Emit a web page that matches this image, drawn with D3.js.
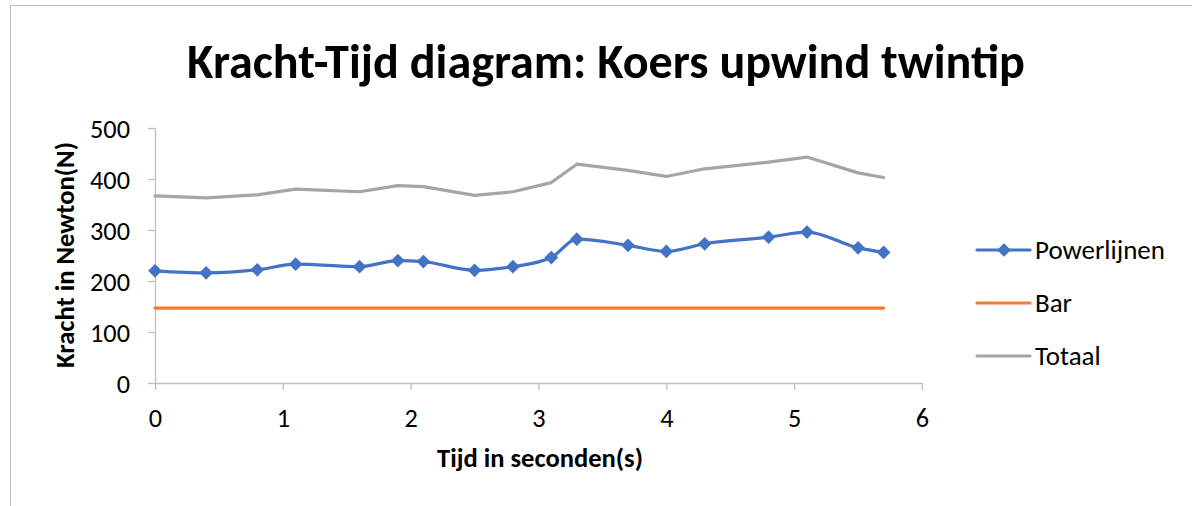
<!DOCTYPE html>
<html>
<head>
<meta charset="utf-8">
<script src="https://cdn.jsdelivr.net/npm/d3@7"></script>
<style>
  body { margin: 0; background: #fff; }
  text { font-family: Carlito, Calibri, "Open Sans", sans-serif; fill: #000; }
</style>
</head>
<body>
<div id="container" style="width:1192px;height:506px"></div>
<script>
var time = [0, 0.4, 0.8, 1.1, 1.6, 1.9, 2.1, 2.5, 2.8, 3.1, 3.3, 3.7, 4.0, 4.3, 4.8, 5.1, 5.5, 5.7];
var powerlijnen = [220, 216, 222, 233, 228, 240, 238, 221, 228, 246, 282, 270, 258, 273, 286, 296, 265, 256];
var bar = [147, 147, 147, 147, 147, 147, 147, 147, 147, 147, 147, 147, 147, 147, 147, 147, 147, 147];
var totaal = [367, 363, 369, 380, 375, 387, 385, 368, 375, 393, 429, 417, 405, 420, 433, 443, 412, 403];
var xTicks = [0, 1, 2, 3, 4, 5, 6];
var yTicks = [0, 100, 200, 300, 400, 500];

var series = [
  { name: "Powerlijnen", values: powerlijnen, color: "#4472c4", marker: true, curve: d3.curveMonotoneX },
  { name: "Bar", values: bar, color: "#ed7d31", marker: false, curve: d3.curveLinear },
  { name: "Totaal", values: totaal, color: "#a5a5a5", marker: false, curve: d3.curveLinear },
];

var svg = d3.select("#container").append("svg")
  .attr("width", 1192)
  .attr("height", 506);

// scale a text's font so it spans the given width
function fit(sel, width) {
  var fs = parseFloat(sel.style("font-size"));
  var w = sel.node().getComputedTextLength();
  sel.style("font-size", (fs * width / w) + "px");
  return sel;
}

// chart frame (only left and top edges visible)
svg.append("path")
  .attr("d", "M10.5,506 L10.5,5.5 L1192,5.5")
  .attr("fill", "none")
  .attr("stroke", "#bfbfbf");

var x = d3.scaleLinear().domain([0, 6]).range([155, 922]);
var y = d3.scaleLinear().domain([0, 500]).range([383, 128]);

var title = svg.append("text")
  .attr("x", 606)
  .attr("y", 78)
  .attr("text-anchor", "middle")
  .style("font-weight", "bold")
  .style("font-size", "40px")
  .text("Kracht-Tijd diagram: Koers upwind twintip");
fit(title, 838);

// axes
var yAxis = svg.append("g")
  .attr("transform", "translate(155,0)")
  .call(d3.axisLeft(y).tickValues(yTicks).tickFormat(d3.format("d")).tickSize(7).tickPadding(0).tickSizeOuter(0));
yAxis.selectAll("text")
  .attr("x", -25)
  .attr("dy", null)
  .attr("y", 9)
  .style("font-size", "20px");
fit(yAxis.selectAll("text").filter(function (d) { return d === 500; }), 40);
yAxis.selectAll("text").style("font-size", yAxis.selectAll("text").filter(function (d) { return d === 500; }).style("font-size"));

var xAxis = svg.append("g")
  .attr("transform", "translate(0,383)")
  .call(d3.axisBottom(x).tickValues(xTicks).tickFormat(d3.format("d")).tickSize(7).tickSizeOuter(0));
xAxis.selectAll("text")
  .attr("dy", null)
  .attr("y", 44)
  .style("font-size", yAxis.select("text").style("font-size"));
svg.selectAll(".domain, .tick line").attr("stroke", "#bfbfbf").attr("stroke-width", 1.3);

// axis titles
var yTitle = svg.append("text")
  .attr("transform", "translate(74,255) rotate(-90)")
  .attr("text-anchor", "middle")
  .style("font-weight", "bold")
  .style("font-size", "20px")
  .text("Kracht in Newton(N)");
fit(yTitle, 226);

var xTitle = svg.append("text")
  .attr("x", 540)
  .attr("y", 467)
  .attr("text-anchor", "middle")
  .style("font-weight", "bold")
  .style("font-size", "20px")
  .text("Tijd in seconden(s)");
fit(xTitle, 206);

// lines
var diamond = d3.symbol().type(d3.symbolDiamond2).size(120);

series.slice().reverse().forEach(function (s) {
  var pts = time.map(function (t, i) { return [t, s.values[i]]; });
  var line = d3.line()
    .x(function (d) { return x(d[0]); })
    .y(function (d) { return y(d[1]); })
    .curve(s.curve);
  svg.append("path")
    .datum(pts)
    .attr("fill", "none")
    .attr("stroke", s.color)
    .attr("stroke-width", 3.2)
    .attr("stroke-linecap", "round")
    .attr("stroke-linejoin", "round")
    .attr("d", line);
  if (s.marker) {
    svg.selectAll("path.marker")
      .data(pts)
      .enter()
      .append("path")
      .attr("class", "marker")
      .attr("transform", function (d) {
        return "translate(" + x(d[0]) + "," + y(d[1]) + ")";
      })
      .attr("d", diamond)
      .attr("fill", s.color);
  }
});

// legend
var legend = svg.append("g").attr("transform", "translate(977,250)");
series.forEach(function (s, i) {
  var g = legend.append("g").attr("transform", "translate(0," + i * 53 + ")");
  g.append("line")
    .attr("x1", 0).attr("x2", 53)
    .attr("stroke", s.color)
    .attr("stroke-width", 3.2)
    .attr("stroke-linecap", "round");
  if (s.marker) {
    g.append("path")
      .attr("transform", "translate(27,0)")
      .attr("d", diamond)
      .attr("fill", s.color);
  }
  var t = g.append("text")
    .attr("x", 58)
    .attr("y", 9)
    .style("font-size", "20px")
    .text(s.name);
  if (i === 0) fit(t, 130);
  else t.style("font-size", legend.select("text").style("font-size"));
});
</script>
</body>
</html>
